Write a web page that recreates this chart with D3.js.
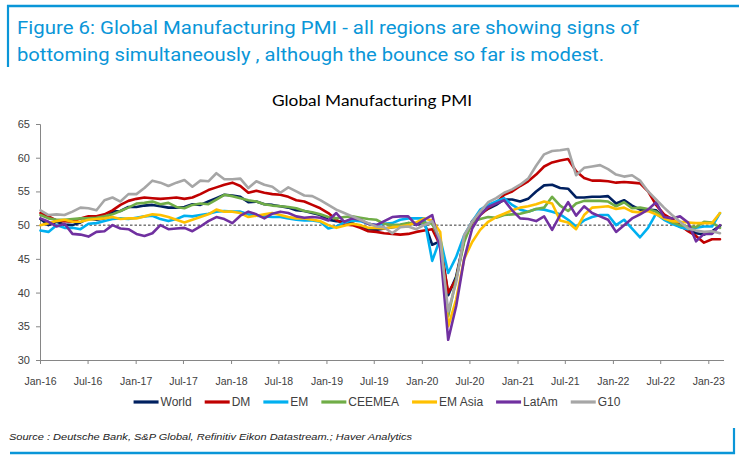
<!DOCTYPE html>
<html><head><meta charset="utf-8">
<script src="https://cdn.jsdelivr.net/npm/d3@7"></script>
<style>
html,body{margin:0;padding:0;background:#fff;}
svg{display:block;}
</style></head><body>
<svg id="c" width="739" height="458"></svg>
<script>
// ---- data ----
const titleLines = ["Figure 6: Global Manufacturing PMI - all regions are showing signs of",
  "bottoming simultaneously , although the bounce so far is modest."];
const chartTitle = "Global Manufacturing PMI";
const sourceText = "Source : Deutsche Bank, S&P Global, Refinitiv Eikon Datastream.; Haver Analytics";
const seriesNames = ["World","DM","EM","CEEMEA","EM Asia","LatAm","G10"];
const seriesColors = ["#002060","#c00000","#00b0f0","#70ad47","#ffc000","#7030a0","#a6a6a6"];
const yTicks = [30,35,40,45,50,55,60,65];
const xTickLabels = ["Jan-16","Jul-16","Jan-17","Jul-17","Jan-18","Jul-18","Jan-19","Jul-19","Jan-20","Jul-20","Jan-21","Jul-21","Jan-22","Jul-22","Jan-23"];
const firstMonth = [2016, 0]; // Jan-2016, monthly data to Feb-2023

const world = [50.9,50.0,50.5,50.1,50.0,50.4,51.0,50.8,51.0,52.0,52.1,52.7,
  52.7,52.9,53.0,52.8,52.6,52.6,52.7,53.1,53.0,53.5,54.0,54.5,
  54.4,54.2,53.4,53.5,53.1,53.0,52.8,52.6,52.2,52.1,51.8,51.5,
  50.8,50.6,50.5,50.3,49.8,49.4,49.3,49.5,49.7,49.8,50.3,50.1,
  50.4,47.1,47.6,39.6,42.4,47.9,50.6,51.8,52.4,53.0,53.8,53.8,
  53.5,53.9,55.0,55.9,56.0,55.5,55.4,54.1,54.1,54.2,54.2,54.3,
  53.2,53.7,52.9,52.3,52.3,52.2,51.1,50.3,49.8,49.4,48.8,48.6,
  49.1,49.9];
const dm = [51.8,51.3,50.7,50.6,50.5,51.0,51.3,51.3,51.6,52.2,53.0,53.6,
  53.9,54.1,54.0,53.9,54.0,54.1,53.9,54.1,54.6,55.2,55.6,56.0,
  56.3,55.8,54.8,55.1,54.8,54.6,54.5,54.2,53.7,53.5,53.0,52.5,
  51.8,50.8,50.1,50.0,49.6,49.1,49.0,48.8,48.7,48.6,48.7,49.0,
  49.2,49.4,47.0,40.0,42.0,48.0,50.3,51.5,52.5,53.3,54.5,55.0,
  55.8,56.5,57.5,58.7,59.3,59.6,59.8,58.0,57.0,56.6,56.6,56.5,
  56.3,56.4,56.3,56.2,55.0,53.0,51.6,50.9,50.0,49.1,48.4,47.4,
  47.9,47.9];
const em = [49.2,49.0,50.0,49.6,49.6,49.4,50.2,50.3,50.6,50.9,51.0,50.9,
  51.1,51.3,51.4,50.9,50.6,50.9,51.4,51.3,51.5,51.7,52.0,52.1,
  52.0,52.0,51.6,51.4,51.3,51.2,51.2,51.0,50.8,50.7,50.7,50.5,
  49.5,49.8,50.4,50.7,50.6,50.2,50.0,50.2,50.3,50.8,51.0,51.0,
  51.0,44.7,48.0,42.9,45.3,48.5,50.5,52.3,53.0,53.5,54.0,53.0,
  52.3,52.0,52.4,52.3,52.0,51.6,50.8,49.8,50.7,51.2,51.5,51.5,
  50.0,50.8,49.5,48.2,49.6,51.7,50.8,50.2,49.7,49.4,49.6,49.8,
  49.8,51.8];
const ceemea = [51.5,51.0,50.8,50.8,50.9,51.0,51.0,51.1,51.3,51.6,52.1,52.6,
  53.2,53.3,53.5,53.1,53.3,52.7,52.5,53.0,53.2,53.1,53.8,54.5,
  54.3,54.0,53.7,53.5,53.1,52.9,52.8,52.7,52.5,52.1,51.9,51.6,
  51.2,51.0,51.2,51.3,51.1,50.9,50.8,50.2,50.0,50.1,50.3,50.3,
  50.4,50.2,47.5,36.5,42.0,47.5,50.5,50.9,51.2,51.1,51.5,51.6,
  51.7,52.0,52.4,52.6,54.2,52.9,52.1,53.2,53.6,53.6,53.6,53.5,
  52.8,53.4,52.5,52.6,52.4,52.0,51.1,50.4,50.0,49.8,49.7,50.5,
  50.4,49.6];
const emAsia = [50.0,50.3,50.6,50.8,50.5,50.5,50.8,50.9,51.0,51.2,50.9,51.0,
  51.0,51.3,51.6,51.5,51.2,50.8,50.4,50.8,51.2,51.6,52.3,52.0,
  52.0,51.8,51.2,51.4,51.6,51.8,51.5,51.2,51.0,51.0,50.8,50.6,
  50.0,49.6,49.9,50.2,50.0,49.6,49.6,49.5,49.7,49.8,50.0,50.4,
  51.0,50.7,49.0,35.0,39.0,45.0,47.5,49.3,50.5,51.2,51.7,52.2,
  52.6,52.8,53.1,53.5,53.2,50.7,50.4,49.4,51.5,52.6,52.7,52.8,
  52.4,52.6,52.0,51.9,52.1,51.6,51.0,50.6,50.5,50.4,50.3,50.3,
  50.3,51.8];
const latAm = [51.0,50.5,49.8,50.2,48.7,48.6,48.3,49.0,49.1,50.0,49.5,49.4,
  48.7,48.4,48.8,50.0,49.4,49.5,49.6,49.1,49.8,50.6,51.2,50.9,
  50.3,51.4,52.0,51.6,51.0,51.7,52.0,51.8,51.3,51.1,51.2,51.1,
  50.7,51.8,50.5,51.0,50.8,50.2,50.0,50.6,51.2,51.3,51.3,50.0,
  50.8,51.5,46.5,33.0,38.0,45.0,49.5,51.5,52.7,53.2,53.7,52.2,
  51.0,50.9,50.6,51.3,49.3,51.5,53.4,51.4,52.8,51.8,51.3,50.8,
  49.0,50.0,51.0,51.6,52.3,53.4,51.2,51.0,51.3,50.4,47.6,48.7,
  48.7,50.0];
const g10 = [52.2,51.5,51.6,51.5,52.0,52.6,52.5,52.2,53.7,54.1,53.5,54.6,
  54.6,55.5,56.6,56.3,55.8,56.3,56.7,55.7,56.6,56.5,57.7,56.8,
  56.8,56.9,55.5,56.5,56.0,55.7,54.8,55.6,55.0,54.4,54.3,53.7,
  53.0,52.3,51.8,51.3,50.8,50.3,49.8,49.7,48.8,49.7,49.8,49.4,
  50.0,50.6,47.8,37.2,41.5,48.5,50.5,52.0,53.4,54.0,54.8,55.3,
  56.0,56.9,58.8,60.5,61.0,61.1,61.3,57.4,58.5,58.7,58.9,58.3,
  57.5,57.2,57.4,56.6,55.0,53.8,52.6,51.5,50.5,49.5,49.2,49.0,
  49.1,48.8];
const seriesValues = [world, dm, em, ceemea, emAsia, latAm, g10];

// ---- drawing ----
const svg = d3.select("#c");
const blue = "#0a96d8";
const axisCol = "#868686";
const labelCol = "#404040";

// frame
svg.append("line").attr("x1",7).attr("x2",739).attr("y1",6).attr("y2",6).attr("stroke",blue).attr("stroke-width",2.5);
svg.append("line").attr("x1",8).attr("x2",8).attr("y1",5).attr("y2",67).attr("stroke",blue).attr("stroke-width",2.2);
svg.append("line").attr("x1",10).attr("x2",735).attr("y1",453).attr("y2",453).attr("stroke",blue).attr("stroke-width",2.5);
svg.append("line").attr("x1",734).attr("x2",734).attr("y1",428).attr("y2",454).attr("stroke",blue).attr("stroke-width",2.2);

// figure title
const tWidths = [622, 587];
titleLines.forEach((t,i)=>{
  svg.append("text").attr("x",17).attr("y",33.5 + i*27.5)
    .attr("font-family","Roboto, 'Noto Sans', sans-serif").attr("font-size",18)
    .attr("fill",blue).attr("textLength",tWidths[i]).attr("lengthAdjust","spacingAndGlyphs").text(t);
});

// chart title
svg.append("text").attr("x",372).attr("y",106).attr("text-anchor","middle")
  .attr("font-family","Lato, 'Open Sans', sans-serif").attr("font-size",15).attr("fill","#000")
  .attr("textLength",200).attr("lengthAdjust","spacingAndGlyphs").text(chartTitle);

// scales
const parse = d3.timeParse("%b-%y");
const x = d3.scaleTime().domain([new Date(2016,0,1), new Date(2023,0,1)]).range([40, 708.3]);
const y = d3.scaleLinear().domain([30,65]).range([360,124]);
const dates = world.map((_,i)=> new Date(firstMonth[0], firstMonth[1]+i, 1));
// data points are spaced evenly across the plotted span (category-style placement)
const xi = d3.scaleLinear().domain([0, world.length-1]).range([40.5, 720]);
const xEnd = 724;

// y axis
const yAxis = d3.axisLeft(y).tickValues(yTicks).tickSize(4).tickPadding(6).tickFormat(d3.format("d"));
const gy = svg.append("g").attr("transform","translate(40,0)").call(yAxis);
gy.select(".domain").attr("stroke",axisCol);
gy.selectAll(".tick line").attr("stroke",axisCol);
gy.selectAll("text").attr("font-family","'Liberation Sans', Arial, sans-serif").attr("font-size",11).attr("fill",labelCol);

// x axis
const xTicks = xTickLabels.map(s=>parse(s));
const xAxis = d3.axisBottom(x).tickValues(xTicks).tickSize(4).tickPadding(14).tickFormat(d3.timeFormat("%b-%y"));
const gx = svg.append("g").attr("transform","translate(0,360)").call(xAxis);
gx.select(".domain").remove();
gx.append("line").attr("x1",40).attr("x2",xEnd).attr("y1",0.5).attr("y2",0.5).attr("stroke",axisCol);
gx.selectAll(".tick line").attr("stroke",axisCol);
gx.selectAll("text").attr("font-family","'Liberation Sans Narrow', 'Arial Narrow', 'Liberation Sans', sans-serif")
  .attr("font-size",10.5).attr("fill",labelCol);

// 50 reference line
svg.append("line").attr("x1",40).attr("x2",xEnd).attr("y1",y(50)).attr("y2",y(50))
  .attr("stroke","#333").attr("stroke-width",1).attr("stroke-dasharray","2.5,2");

// series
const line = d3.line().x((d,i)=>xi(i)).y(d=>y(d));
seriesValues.forEach((vals,k)=>{
  svg.append("path").datum(vals).attr("d",line).attr("fill","none")
    .attr("stroke",seriesColors[k]).attr("stroke-width",2.6)
    .attr("stroke-linejoin","round").attr("stroke-linecap","round");
});

// legend
const lg = svg.append("g");
let lx = 0;
seriesNames.forEach((n,k)=>{
  const g = lg.append("g").attr("transform",`translate(${lx},0)`);
  g.append("line").attr("x1",0).attr("x2",25).attr("y1",0).attr("y2",0)
    .attr("stroke",seriesColors[k]).attr("stroke-width",3.2);
  const t = g.append("text").attr("x",27).attr("y",4.2).attr("font-family","'Liberation Sans', Arial, sans-serif")
    .attr("font-size",12).attr("fill",labelCol).text(n);
  lx += 27 + t.node().getComputedTextLength() + 13;
});
lx -= 13;
lg.attr("transform",`translate(${377 - lx/2},402)`);

// source
svg.append("text").attr("x",9).attr("y",440).attr("font-family","'Liberation Sans', Arial, sans-serif")
  .attr("font-style","italic").attr("font-size",9.5).attr("fill","#222")
  .attr("textLength",403).attr("lengthAdjust","spacingAndGlyphs").text(sourceText);
</script>
</body></html>
